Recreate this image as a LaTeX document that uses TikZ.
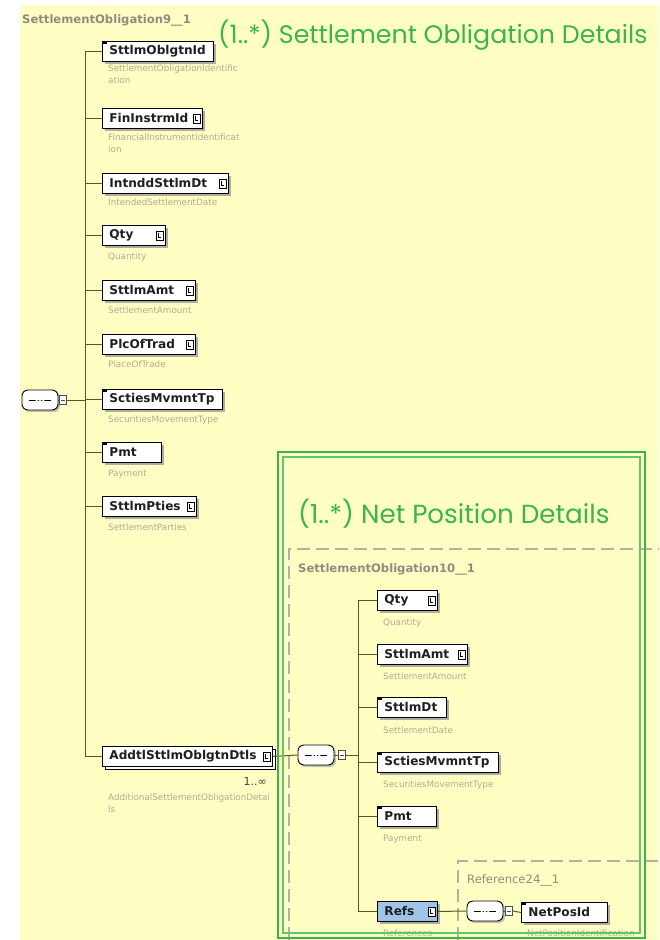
\documentclass[tikz,border=0pt]{standalone}
\usepackage{fontspec}
\setmainfont{DejaVu Sans}
\newfontfamily\grnfont{Poppins}
\usetikzlibrary{shadows}
\definecolor{bgy}{RGB}{255,255,196}
\definecolor{grn}{RGB}{59,181,74}
\definecolor{lnc}{RGB}{95,85,35}
\definecolor{ttlc}{RGB}{140,140,128}
\definecolor{dscc}{RGB}{172,172,148}
\definecolor{dashc}{RGB}{178,178,160}
\definecolor{refb}{RGB}{160,196,232}
\newcommand\xsdicon[1]{%
  \draw[line width=0.6pt, fill=white] ([xshift=-10pt,yshift=-4.5pt]#1.east) rectangle ([xshift=-3pt,yshift=4.5pt]#1.east);
  \draw[line width=0.6pt] ([xshift=-8pt,yshift=2.5pt]#1.east) -- ([xshift=-8pt,yshift=-2pt]#1.east) -- ([xshift=-5pt,yshift=-2pt]#1.east);}
\newcommand\mandmark[1]{%
  \fill ([xshift=0.5pt,yshift=-1pt]#1.north west) rectangle ([xshift=5pt,yshift=-3pt]#1.north west);}
\tikzset{
  el/.style={draw=black, line width=0.9pt, fill=white, rectangle, anchor=north west,
    minimum height=20pt, inner xsep=7pt, inner ysep=0pt, text width=#1, align=left,
    font=\fontsize{12.1}{14}\selectfont\bfseries, text=black!88,
    drop shadow={shadow xshift=2.5pt, shadow yshift=-2.5pt, fill=black!45, opacity=0.7}},
  desc/.style={anchor=north west, inner sep=0pt, font=\fontsize{8.8}{11.5}\selectfont, text=dscc, align=left},
  ttl/.style={anchor=base west, inner sep=0pt, font=\fontsize{11.6}{14}\selectfont\bfseries, text=ttlc},
  grntxt/.style={anchor=base west, inner sep=0pt, font=\grnfont\fontsize{#1}{26}\selectfont, text=grn},
  comp/.style={draw=black, line width=0.9pt, fill=white, rounded corners=6pt,
    minimum width=36pt, minimum height=20pt, inner sep=0pt,
    drop shadow={shadow xshift=2pt, shadow yshift=-2pt, fill=black!40, opacity=0.6},
    path picture={
      \draw[line width=0.9pt] ([xshift=7pt]path picture bounding box.west) -- ([xshift=-7pt]path picture bounding box.east);
      \foreach \dx in {-3.2,0,3.2} \fill ([xshift=\dx pt]path picture bounding box.center) circle (1.4pt);}},
  pm/.style={draw=black!70, line width=0.5pt, fill=white, minimum width=7pt, minimum height=9pt, inner sep=0pt,
    path picture={\draw[line width=0.5pt] ([xshift=-2pt]path picture bounding box.center) -- ([xshift=2pt]path picture bounding box.center);}},
  conn/.style={draw=lnc, line width=1pt},
  dashbox/.style={draw=dashc, line width=1.2pt, dash pattern=on 13pt off 6pt},
  frameout/.style={draw=grn, line width=2.6pt},
  framein/.style={draw=grn!80, line width=1.1pt},
}
\begin{document}
\begin{tikzpicture}[x=1pt,y=-1pt]
\useasboundingbox (0,0) rectangle (659,940);
\fill[bgy] (20,5) rectangle (659,940);

% titles
\node[ttl] (t1) at (22,23) {SettlementObligation9\_\_1};
\node[grntxt=25.3] (g1) at (218,43) {(1..*) Settlement Obligation Details};

% outer compositor
\node[comp] (c1) at (40,400) {};
\node[pm] (p1) at (63,400) {};

% elements
\node[el=97pt] (n1) at (102,41) {SttlmOblgtnId};
\node[el=86pt] (n2) at (102,108) {FinInstrmId};
\node[el=112pt] (n3) at (102,173) {IntnddSttlmDt};
\node[el=49pt] (n4) at (102,225) {Qty};
\node[el=79pt] (n5) at (102,280) {SttlmAmt};
\node[el=79pt] (n6) at (102,334) {PlcOfTrad};
\node[el=106pt] (n7) at (102,389) {SctiesMvmntTp};
\node[el=45pt] (n8) at (102,442) {Pmt};
\node[el=80pt] (n9) at (102,496) {SttlmPties};
\node[el=156pt, copy shadow={shadow xshift=2.5pt, shadow yshift=-2.5pt, fill=white, draw=black, line width=0.7pt}] (n10) at (102,746) {AddtlSttlmOblgtnDtls};

\mandmark{n1}\mandmark{n7}\mandmark{n8}
\xsdicon{n2}\xsdicon{n3}\xsdicon{n4}\xsdicon{n5}\xsdicon{n6}\xsdicon{n9}\xsdicon{n10}

\node[anchor=base east, inner sep=0pt, font=\fontsize{11}{12}\selectfont, text=black!75] (mult) at (267,785) {1..∞};

% descriptions
\node[desc] (d1) at (108,65) {SettlementObligationIdentific\\ation};
\node[desc] (d2) at (108,134) {FinancialInstrumentIdentificat\\ion};
\node[desc] (d3) at (108,199) {IntendedSettlementDate};
\node[desc] (d4) at (108,253) {Quantity};
\node[desc] (d5) at (108,307) {SettlementAmount};
\node[desc] (d6) at (108,361) {PlaceOfTrade};
\node[desc] (d7) at (108,416) {SecuritiesMovementType};
\node[desc] (d8) at (108,470) {Payment};
\node[desc] (d9) at (108,524) {SettlementParties};
\node[desc] (d10) at (108,794) {AdditionalSettlementObligationDetai\\ls};

% outer spine
\coordinate (j1) at (85,400);
\draw[conn] (c1.east) -- (p1.west);
\draw[conn] (p1.east) -- (j1);
\draw[conn] (j1 |- n1.west) -- (j1 |- n10.west);
\foreach \n in {n1,n2,n3,n4,n5,n6,n7,n8,n9,n10} \draw[conn] (j1 |- \n.west) -- (\n.west);

% net position block
\draw[dashbox] (289,940) |- (659,549);
\node[ttl] (t2) at (298,572) {SettlementObligation10\_\_1};
\node[grntxt=26.2] (g2) at (298,523) {(1..*) Net Position Details};

\node[comp] (c2) at (316,755) {};
\node[pm] (p2) at (342,755) {};
\draw[conn] (n10.east) -- (c2.west);
\draw[conn] (c2.east) -- (p2.west);

\node[el=46pt] (m1) at (377,590) {Qty};
\node[el=76pt] (m2) at (377,644) {SttlmAmt};
\node[el=55pt] (m3) at (377,697) {SttlmDt};
\node[el=107pt] (m4) at (377,752) {SctiesMvmntTp};
\node[el=45pt] (m5) at (377,806) {Pmt};
\node[el=46pt, fill=refb] (m6) at (377,901) {Refs};
\mandmark{m3}\mandmark{m4}\mandmark{m5}
\xsdicon{m1}\xsdicon{m2}\xsdicon{m6}

\node[desc] (e1) at (383,619) {Quantity};
\node[desc] (e2) at (383,673) {SettlementAmount};
\node[desc] (e3) at (383,727) {SettlementDate};
\node[desc] (e4) at (383,781) {SecuritiesMovementType};
\node[desc] (e5) at (383,835) {Payment};
\node[desc] (e6) at (383,930) {References};

\coordinate (j2) at (358,755);
\draw[conn] (p2.east) -- (j2);
\draw[conn] (j2 |- m1.west) -- (j2 |- m6.west);
\foreach \n in {m1,m2,m3,m4,m5,m6} \draw[conn] (j2 |- \n.west) -- (\n.west);

% reference block
\draw[dashbox] (458,940) |- (659,861);
\node[ttl, font=\fontsize{11.6}{14}\selectfont] (t3) at (467,883) {Reference24\_\_1};
\node[comp] (c3) at (485,911) {};
\node[pm] (p3) at (509,911) {};
\node[el=72pt] (r1) at (521,902) {NetPosId};
\mandmark{r1}
\node[desc] (f1) at (527,930) {NetPositionIdentification};
\draw[conn] (m6.east) -- (c3.west);
\draw[conn] (c3.east) -- (p3.west);
\draw[conn] (p3.east) -- (r1.west);

% green frame
\draw[frameout] (278,452) rectangle (645,938);
\draw[framein] (283,457) rectangle (640,933);
\end{tikzpicture}
\end{document}
